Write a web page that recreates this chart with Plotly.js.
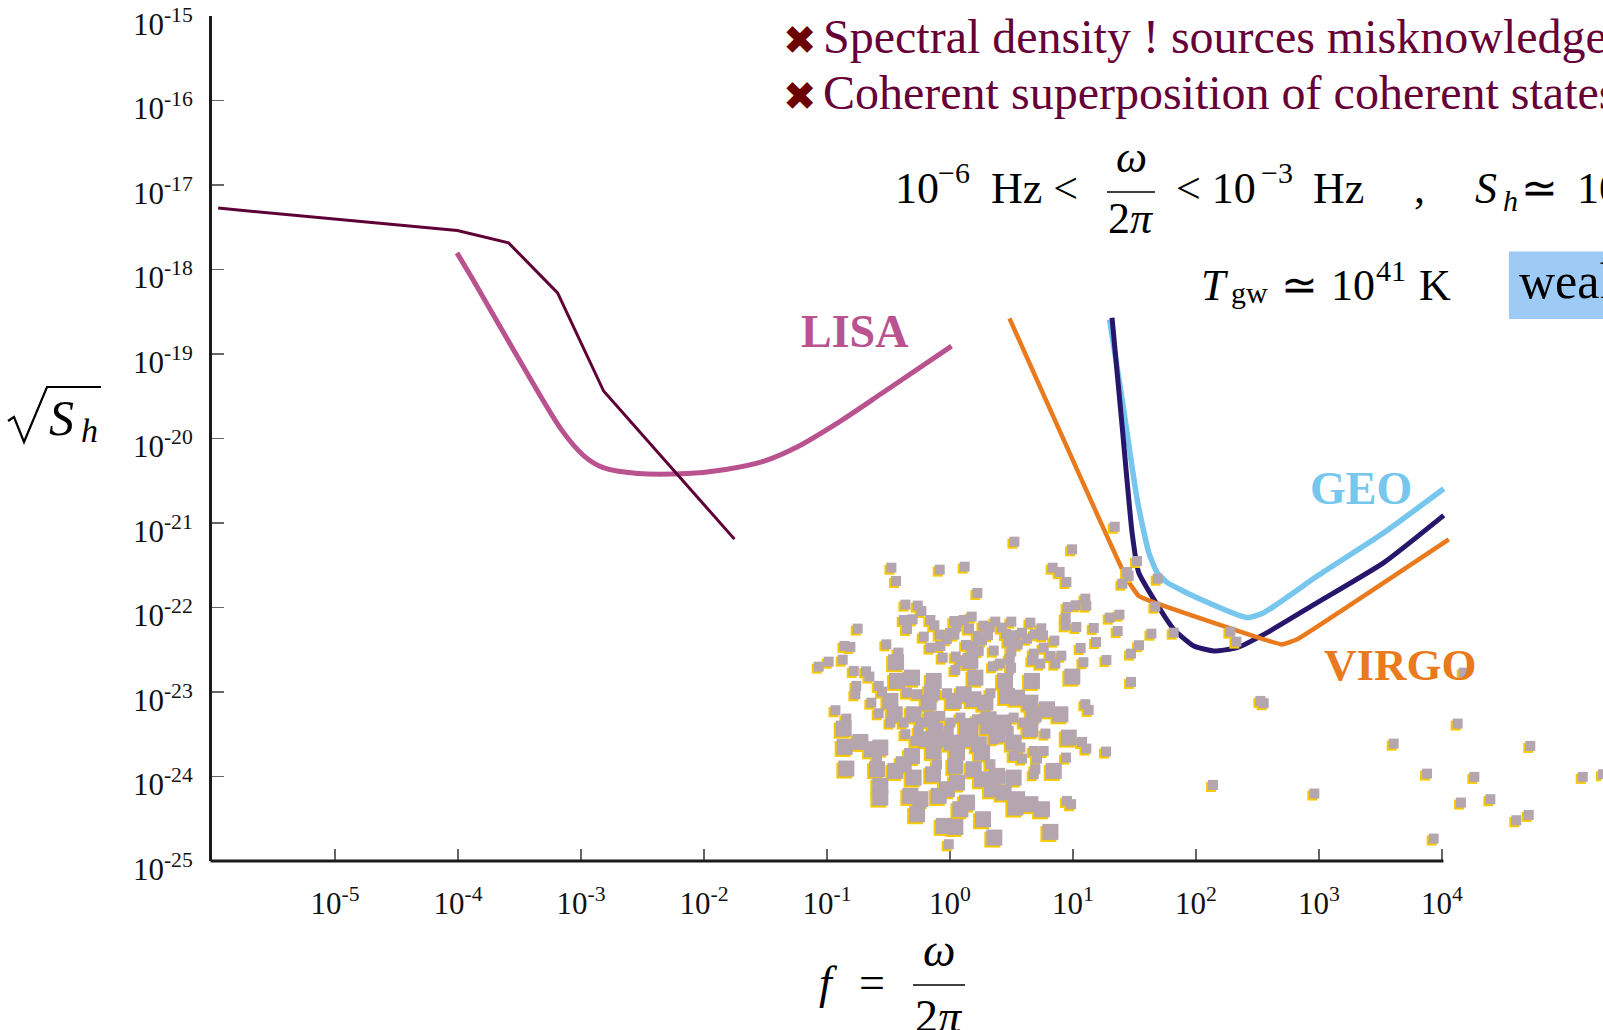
<!DOCTYPE html>
<html>
<head>
<meta charset="utf-8">
<script src="https://cdn.plot.ly/plotly-3.0.1.min.js"></script>
<style>
html,body{margin:0;padding:0;background:#ffffff;}
#chart{width:1603px;height:1030px;}
</style>
</head>
<body>
<div id="chart"></div>
<script>
// ---------------- DATA (as log10 exponents) ----------------
const tickExpX = [-5, -4, -3, -2, -1, 0, 1, 2, 3, 4];
const tickExpY = [-15, -16, -17, -18, -19, -20, -21, -22, -23, -24, -25];

// dark maroon bound
const boundLogF = [-5.95, -4.005, -3.589, -3.190, -2.816, -1.752];
const boundLogS = [-17.273, -17.539, -17.684, -18.277, -19.438, -21.191];

// LISA sensitivity
const lisaLogF = [-4.008, -3.847, -3.535, -3.161, -2.974, -2.819, -2.539, -2.135, -1.823, -1.511, -1.231, -0.890, -0.547, 0.013];
const lisaLogS = [-17.803, -18.197, -18.985, -19.892, -20.208, -20.345, -20.414, -20.414, -20.366, -20.267, -20.091, -19.794, -19.459, -18.906];

// GEO sensitivity
const geoLogF = [1.298, 1.400, 1.522, 1.617, 1.685, 1.767, 2.037, 2.417, 2.552, 2.986, 3.528, 4.015];
const geoLogS = [-18.591, -19.538, -20.721, -21.351, -21.588, -21.706, -21.903, -22.120, -22.062, -21.628, -21.115, -20.595];

// navy (LIGO) sensitivity
const ligoLogF = [1.318, 1.400, 1.481, 1.535, 1.658, 1.820, 1.983, 2.146, 2.335, 2.579, 2.986, 3.528, 4.015];
const ligoLogS = [-18.572, -19.854, -21.115, -21.588, -21.903, -22.259, -22.456, -22.515, -22.475, -22.297, -21.943, -21.469, -20.910];

// VIRGO sensitivity
const virgoLogF = [0.484, 1.440, 1.535, 1.631, 2.701, 2.823, 4.056];
const virgoLogS = [-18.579, -21.667, -21.865, -21.924, -22.437, -22.376, -21.193];

// sources (small squares)
const dustSmallLogF = [0.524,0.993,-0.476,-0.083,0.120,-0.438,0.835,0.892,0.947,0.223,1.101,-0.362,-0.262,-0.232,0.177,0.957,1.022,1.109,1.340,1.521,1.440,1.453,1.402,1.378,1.299,1.364,1.169,1.188,1.063,1.028,0.941,0.941,-0.750,-0.376,-0.303,-0.349,-0.159,-0.127,0.036,0.112,0.055,0.155,0.272,0.323,0.369,0.421,0.499,0.654,0.743,-0.213,-0.083,0.001,0.036,-0.026,0.226,0.261,0.310,0.456,0.532,0.586,0.627,0.689,0.757,0.849,-0.517,-0.858,-0.809,-0.419,-0.159,-0.078,0.131,0.193,0.234,0.356,0.475,0.551,0.499,0.486,0.681,0.762,0.817,0.906,0.670,0.735,0.857,-1.067,-0.986,-0.872,-0.782,-0.682,-0.655,-0.059,0.047,0.085,0.174,0.044,0.497,0.405,0.350,1.085,1.272,1.472,1.537,1.472,-0.761,-0.579,
  -0.769,-0.552,-0.639,-0.349,-0.267,-0.024,0.329,1.101,1.128,-0.931,-0.842,-0.579,-0.484,-0.376,-0.240,-0.078,0.004,0.085,0.220,0.518,0.600,0.776,-0.362,-0.254,-0.010,0.288,0.478,-0.281,0.356,0.410,0.573,0.681,0.762,1.074,1.109,1.269,0.518,0.586,0.708,0.944,-0.593,-0.105,0.329,0.681,0.695,0.952,0.985,-0.010,
  1.689,1.670,1.638,1.819,2.280,2.329,2.524,2.551,4.177,4.128,3.608,4.719,3.879,4.264,5.145,5.310,2.139,2.963,4.155,4.394,4.605,4.706,3.933];
const dustSmallLogS = [-21.221,-21.312,-21.529,-21.552,-21.517,-21.686,-21.529,-21.580,-21.698,-21.828,-21.895,-21.966,-21.978,-22.041,-22.108,-21.994,-21.974,-21.978,-21.044,-21.450,-21.580,-21.627,-21.718,-22.085,-22.120,-22.278,-22.242,-22.408,-22.479,-22.231,-22.120,-22.211,-22.250,-22.148,-22.140,-22.254,-22.148,-22.211,-22.160,-22.148,-22.227,-22.250,-22.215,-22.234,-22.167,-22.238,-22.167,-22.179,-22.246,-22.345,-22.321,-22.301,-22.321,-22.376,-22.337,-22.388,-22.329,-22.313,-22.329,-22.298,-22.369,-22.317,-22.329,-22.392,-22.436,-22.455,-22.467,-22.534,-22.475,-22.455,-22.443,-22.455,-22.514,-22.510,-22.404,-22.439,-22.522,-22.605,-22.546,-22.475,-22.574,-22.570,-22.625,-22.664,-22.664,-22.700,-22.641,-22.617,-22.751,-22.755,-22.818,-22.593,-22.581,-22.633,-22.534,-22.739,-22.715,-22.664,-22.696,-22.648,-22.621,-22.546,-22.447,-22.881,-22.928,-22.928,
  -23.027,-22.996,-23.126,-23.007,-23.027,-23.015,-23.015,-23.145,-23.212,-23.216,-23.315,-23.252,-23.362,-23.362,-23.362,-23.283,-23.362,-23.303,-23.323,-23.303,-23.362,-23.492,-23.500,-23.461,-23.461,-23.441,-23.461,-23.579,-23.559,-23.540,-23.658,-23.698,-23.698,-23.591,-23.670,-23.705,-23.757,-23.788,-23.788,-23.776,-23.796,-23.855,-23.855,-23.974,-23.914,-24.289,-24.328,-24.802,
  -21.659,-21.990,-22.310,-22.298,-22.286,-22.404,-23.106,-23.134,-22.771,-23.374,-23.611,-23.638,-23.966,-24.005,-24.005,-23.974,-24.100,-24.202,-24.309,-24.269,-24.518,-24.455,-24.735];

// sources (large squares)
const dustLargeLogF = [-0.438,0.166,-0.430,-0.308,-0.132,0.207,0.448,0.667,0.995,
  -0.484,-0.146,-0.173,0.031,0.112,0.193,0.288,0.464,0.546,0.654,0.789,0.898,-0.449,-0.295,-0.146,0.139,0.315,0.437,0.681,0.654,-0.864,-0.118,0.166,0.383,-0.728,-0.633,-0.566,-0.856,-0.186,-0.105,0.017,0.139,0.234,0.518,0.966,-0.308,-0.132,0.058,0.261,-0.842,-0.593,-0.444,-0.376,-0.295,-0.137,0.044,0.193,0.261,0.383,0.518,0.844,-0.566,0.058,-0.566,-0.322,-0.240,-0.091,-0.024,0.139,0.342,0.437,0.546,0.654,0.749,-0.267,-0.051,0.044,0.085,0.269,0.532,0.361,0.817];
const dustLargeLogS = [-22.648,-22.633,-22.869,-22.830,-22.869,-22.830,-22.869,-22.869,-22.818,
  -23.106,-23.007,-23.126,-23.106,-23.027,-23.086,-23.126,-23.047,-23.067,-23.126,-23.205,-23.264,-23.264,-23.264,-23.323,-23.402,-23.323,-23.362,-23.264,-23.441,-23.433,-23.461,-23.461,-23.410,-23.591,-23.678,-23.658,-23.650,-23.559,-23.559,-23.599,-23.559,-23.619,-23.599,-23.540,-23.757,-23.698,-23.717,-23.717,-23.906,-23.914,-23.934,-23.855,-24.013,-23.974,-23.875,-23.914,-24.033,-23.993,-24.013,-23.934,-24.112,-24.072,-24.250,-24.230,-24.269,-24.230,-24.151,-24.309,-24.151,-24.190,-24.269,-24.328,-24.388,-24.447,-24.585,-24.597,-24.388,-24.506,-24.368,-24.723,-24.656];

// ---------------- LAYOUT GEOMETRY ----------------
const PAGE_W = 1603, PAGE_H = 1030;
const ML = 210, MR = 0, MT = 16, MB = 167, SH = 2;
const W = PAGE_W - ML - MR, H = PAGE_H - MT - MB;
const X_MIN = -6, X_MAX = -6 + (W - SH) / 122.99;
const Y_MIN = -25.0005, Y_MAX = -14.9995;
const pxDec = (W - SH) / (X_MAX - X_MIN);
const px = X => (X - ML) / W;
const py = Y => 1 - (Y - MT) / H;

const SERIF = 'Liberation Serif, Times New Roman, serif';
const pow10 = a => a.map(v => Math.pow(10, v));

function line(lf, ls, color, width, shape, smoothing) {
  return {type: 'scatter', mode: 'lines', x: pow10(lf), y: pow10(ls), xaxis: 'x', yaxis: 'y',
    line: {color, width, shape: shape || 'linear', smoothing: smoothing || 1}, hoverinfo: 'skip'};
}

const SMALL = 10, LARGE = 16;
const traces = [
  line(lisaLogF, lisaLogS, '#b9528f', 5, 'spline', 0.8),
  line(boundLogF, boundLogS, '#5e0036', 3),
  line(geoLogF, geoLogS, '#76c6ee', 5.5, 'spline', 0.5),
  line(ligoLogF, ligoLogS, '#27166c', 5, 'spline', 0.5),
  line(virgoLogF, virgoLogS, '#e97a1d', 4.5, 'spline', 0.3),
  // yellow shadows (shifted subplot)
  {type: 'scatter', mode: 'markers', x: pow10(dustLargeLogF), y: pow10(dustLargeLogS), xaxis: 'x2', yaxis: 'y2',
    marker: {symbol: 'square', size: LARGE, color: '#f6c800', line: {width: 0}}, hoverinfo: 'skip'},
  {type: 'scatter', mode: 'markers', x: pow10(dustSmallLogF), y: pow10(dustSmallLogS), xaxis: 'x2', yaxis: 'y2',
    marker: {symbol: 'square', size: SMALL, color: '#f6c800', line: {width: 0}}, hoverinfo: 'skip'},
  // grey squares
  {type: 'scatter', mode: 'markers', x: pow10(dustLargeLogF), y: pow10(dustLargeLogS), xaxis: 'x3', yaxis: 'y3',
    marker: {symbol: 'square', size: LARGE, color: '#b4a5af', line: {width: 0}}, hoverinfo: 'skip'},
  {type: 'scatter', mode: 'markers', x: pow10(dustSmallLogF), y: pow10(dustSmallLogS), xaxis: 'x3', yaxis: 'y3',
    marker: {symbol: 'square', size: SMALL, color: '#b4a5af', line: {width: 0}}, hoverinfo: 'skip'}
];

const hiddenX = dom => ({type: 'log', range: [X_MIN, X_MAX], domain: dom, visible: false, showgrid: false, zeroline: false, fixedrange: true});
const hiddenY = dom => ({type: 'log', range: [Y_MIN, Y_MAX], domain: dom, visible: false, showgrid: false, zeroline: false, fixedrange: true});

function ann(text, X, Y, size, color, xanchor, family) {
  return {text, x: px(X), y: py(Y), xref: 'paper', yref: 'paper', xanchor: xanchor || 'left', yanchor: 'middle',
    showarrow: false, borderpad: 0, font: {family: family || SERIF, size, color: color || '#000'}};
}

const MAROON = '#660037';
const annotations = [
  // bullets
  ann('\u2716', 799.5, 40, 40, '#6c0000', 'center', 'DejaVu Sans'),
  ann('\u2716', 799.5, 96, 40, '#6c0000', 'center', 'DejaVu Sans'),
  ann('Spectral density ! sources misknowledge', 822, 36, 48, MAROON),
  ann('Coherent superposition of coherent states', 822, 92, 48, MAROON),
  // formula 1
  ann('10', 894, 188, 44), ann('\u22126', 937, 172, 30),
  ann('Hz <', 990, 188, 44),
  ann('<i>\u03c9</i>', 1131, 158, 44, '#000', 'center'),
  ann('2<i>\u03c0</i>', 1131, 218, 44, '#000', 'center'),
  ann('< 10', 1175, 188, 44), ann('\u22123', 1260, 172, 30),
  ann('Hz', 1312, 188, 44),
  ann(',', 1413, 188, 44),
  ann('<i>S</i>', 1474, 188, 44), ann('<i>h</i>', 1502, 200, 30),
  ann('\u2243', 1520, 188, 44), ann('10', 1576, 188, 44),
  // formula 2
  ann('<i>T</i>', 1200, 285, 44), ann('gw', 1230, 293, 30),
  ann('\u2243', 1280, 285, 44), ann('10', 1330, 285, 44), ann('41', 1375, 270, 30),
  ann('K', 1418, 285, 44),
  ann('weak', 1518, 281, 50),
  // curve labels
  ann('<b>LISA</b>', 800, 331, 46, '#b9528f'),
  ann('<b>GEO</b>', 1309, 488, 46, '#76c6ee'),
  ann('<b>VIRGO</b>', 1323, 665, 45, '#e97a1d'),
  // y-axis title
  ann('<i>S</i>', 48, 418, 50), ann('<i>h</i>', 80, 430, 34),
  // x-axis title
  ann('<i>f</i>', 818, 982, 46), ann('=', 858, 982, 46),
  ann('<i>\u03c9</i>', 939, 950, 46, '#000', 'center'),
  ann('2<i>\u03c0</i>', 939, 1016, 46, '#000', 'center')
];

const radical = `M ${px(8)},${py(421)} L ${px(14)},${py(417)} L ${px(24)},${py(442)} L ${px(47)},${py(387)} L ${px(101)},${py(387)}`;

const shapes = [
  // x axis line, from 1e-6 to 1e4
  {type: 'line', xref: 'paper', yref: 'paper', x0: px(ML + SH - 1.5), x1: px(ML + SH + 10 * pxDec + 1.5), y0: SH / H, y1: SH / H,
    line: {color: '#1a1a1a', width: 3}},
  // blue box
  {type: 'rect', xref: 'paper', yref: 'paper', x0: px(1509), x1: px(1610), y0: py(319), y1: py(251.5),
    fillcolor: '#9dcbf6', line: {width: 0}, layer: 'below'},
  // fraction bars
  {type: 'line', xref: 'paper', yref: 'paper', x0: px(1107), x1: px(1155), y0: py(192), y1: py(192), line: {color: '#000', width: 1.6}},
  {type: 'line', xref: 'paper', yref: 'paper', x0: px(913), x1: px(965), y0: py(985), y1: py(985), line: {color: '#000', width: 1.6}},
  // radical of y title
  {type: 'path', xref: 'paper', yref: 'paper', path: radical, line: {color: '#000', width: 2.2}}
];

const layout = {
  width: PAGE_W, height: PAGE_H,
  margin: {l: ML, r: MR, t: MT, b: MB, pad: 0},
  paper_bgcolor: '#ffffff', plot_bgcolor: 'rgba(0,0,0,0)',
  showlegend: false, hovermode: false,
  xaxis: {
    type: 'log', range: [X_MIN, X_MAX], domain: [SH / W, 1], anchor: 'y',
    tickmode: 'array', tickvals: pow10(tickExpX), ticktext: tickExpX.map(e => '10<sup>' + e + '</sup>'),
    ticks: 'inside', ticklen: 12, tickwidth: 1.5, tickcolor: '#666',
    showline: false, showgrid: false, zeroline: false,
    tickfont: {family: SERIF, size: 31, color: '#111'}, ticklabelstandoff: 21, fixedrange: true
  },
  yaxis: {
    type: 'log', range: [Y_MIN, Y_MAX], domain: [SH / H, 1], anchor: 'x',
    tickmode: 'array', tickvals: pow10(tickExpY), ticktext: tickExpY.map(e => '10<sup>' + e + '</sup>'),
    ticks: 'inside', ticklen: 12, tickwidth: 1.5, tickcolor: '#666',
    showline: true, linewidth: 3, linecolor: '#1a1a1a', showgrid: false, zeroline: false,
    tickfont: {family: SERIF, size: 31, color: '#111'}, ticklabelstandoff: 10, ticklabelshift: 8, fixedrange: true
  },
  xaxis2: Object.assign(hiddenX([0, 1 - SH / W]), {anchor: 'y2'}),
  yaxis2: Object.assign(hiddenY([0, 1 - SH / H]), {anchor: 'x2'}),
  xaxis3: Object.assign(hiddenX([SH / W, 1]), {anchor: 'y3'}),
  yaxis3: Object.assign(hiddenY([SH / H, 1]), {anchor: 'x3'}),
  annotations, shapes
};

Plotly.newPlot('chart', traces, layout, {staticPlot: true, displayModeBar: false});
</script>
</body>
</html>
